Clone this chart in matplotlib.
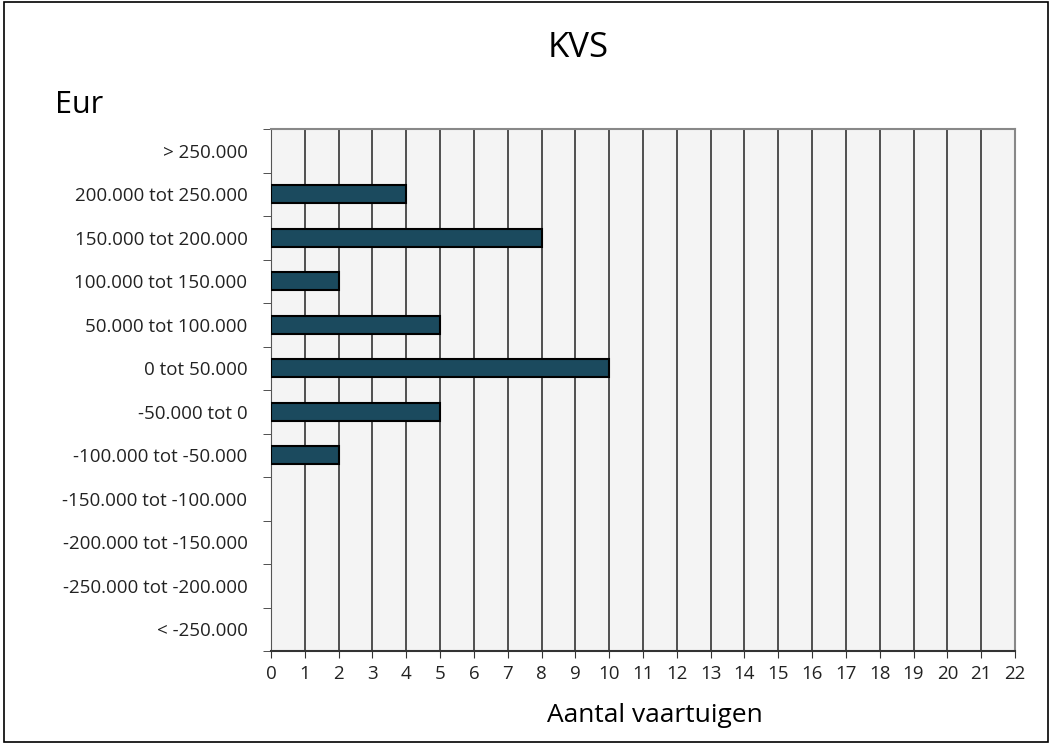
import numpy as np
import matplotlib.pyplot as plt
from matplotlib.patches import Rectangle

categories = ['< -250.000', '-250.000 tot -200.000', '-200.000 tot -150.000',
              '-150.000 tot -100.000', '-100.000 tot -50.000', '-50.000 tot 0',
              '0 tot 50.000', '50.000 tot 100.000', '100.000 tot 150.000',
              '150.000 tot 200.000', '200.000 tot 250.000', '> 250.000']
counts = [0, 0, 0, 0, 2, 5, 10, 5, 2, 8, 4, 0]
x_ticks = list(range(0, 23))

plt.rcParams['font.family'] = ['Open Sans', 'DejaVu Sans']

fig = plt.figure(figsize=(10.5, 7.43), dpi=100)
ax = fig.add_axes([271 / 1050, 1 - 651 / 743, (1015 - 271) / 1050, (651 - 129) / 743])
ax.set_facecolor('#f4f4f4')

y = np.arange(len(categories))
edge_w = [1.5 if c > 0 else 0 for c in counts]
ax.barh(y, counts, height=0.42, color='#1b4a5e', edgecolor='black', linewidth=edge_w, zorder=3)

ax.set_xlim(0, 22)
ax.set_ylim(-0.5, len(categories) - 0.5)
ax.set_xticks(x_ticks)
ax.tick_params(axis='x', labelsize=13.5, length=5, color='#333333', pad=5, labelcolor='#222222')
ax.grid(axis='x', color='#222222', linewidth=1.1, zorder=1)

ax.set_yticks(y)
ax.set_yticklabels(categories, fontsize=13.5, color='#222222')
ax.tick_params(axis='y', which='major', length=0, pad=17)
ax.set_yticks(np.arange(-0.5, len(categories) + 0.5, 1), minor=True)
ax.tick_params(axis='y', which='minor', length=6, color='#333333')

for s in ['top', 'right']:
    ax.spines[s].set_color('#888888')
    ax.spines[s].set_linewidth(1.5)
ax.spines['left'].set_color('#555555')
ax.spines['bottom'].set_color('#333333')
ax.spines['bottom'].set_linewidth(1.5)

ax.set_xlabel('Aantal vaartuigen', fontsize=19)
ax.xaxis.set_label_coords((655 - 271) / (1015 - 271), -(716 - 651) / (651 - 129))
ax.xaxis.label.set_va('center')
fig.text(578 / 1050, 1 - 48 / 743, 'KVS', fontsize=25, ha='center', va='center', weight='medium')
fig.text(55 / 1050, 1 - 105 / 743, 'Eur', fontsize=22, ha='left', va='center')

fig.patches.append(Rectangle((0.004, 0.002), 0.994, 0.995, transform=fig.transFigure,
                             fill=False, edgecolor='black', linewidth=1.2))

fig.savefig('out.png', dpi=100)
plt.close()
